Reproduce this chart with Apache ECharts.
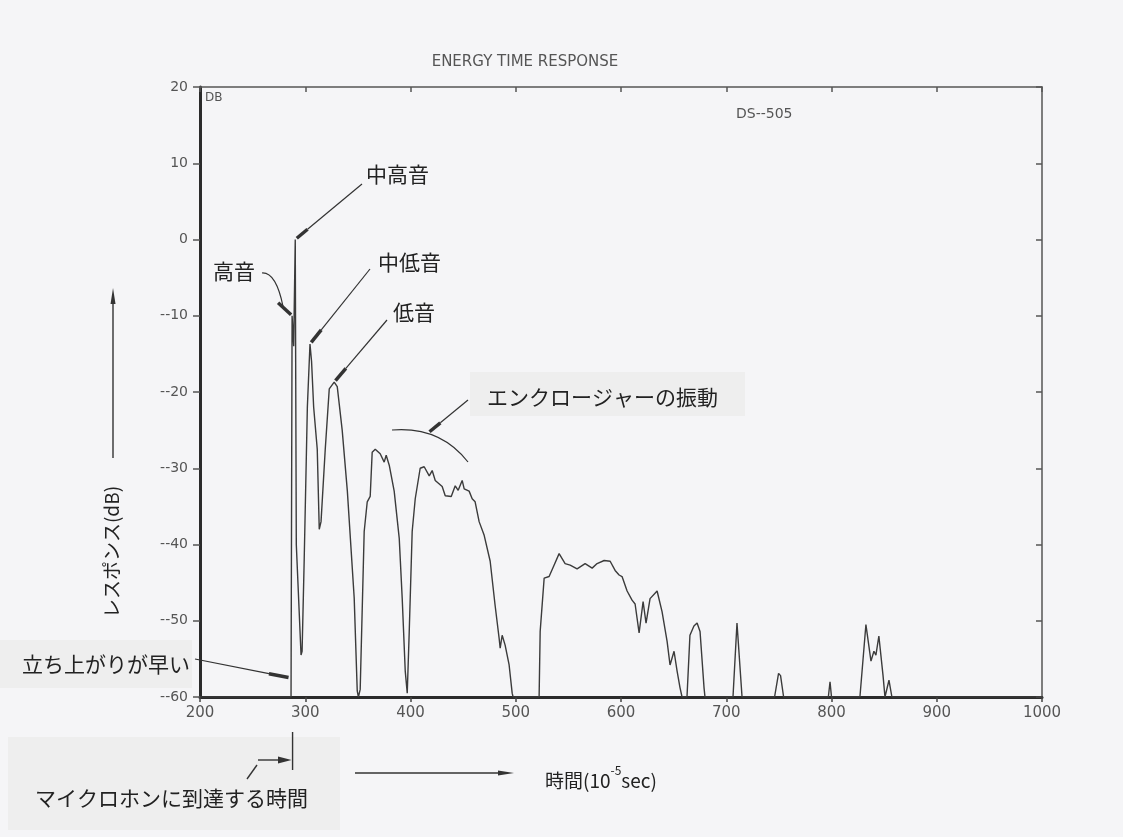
<!DOCTYPE html>
<html>
<head>
<meta charset="utf-8">
<script src="https://cdn.jsdelivr.net/npm/echarts@6/dist/echarts.min.js"></script>
<style>
html, body { margin: 0; padding: 0; background: #f5f5f7; }
#main { width: 1123px; height: 837px; }
</style>
</head>
<body>
<div id="main"></div>
<script>
// 時間軸 (10^-5 sec) と レスポンス (dB)
var times = [200, 286.5, 287.5, 289, 290.5, 291.5, 296, 297, 299, 302, 304.5, 306, 308, 311.4, 313.3, 315, 319, 322.8, 327.5, 330.4, 332.3, 335.1, 340, 346.5, 349.4, 350.5,
  352.2, 356, 358.9, 361.7, 363.6, 366.5, 371.2, 375, 376.9, 379.8, 384.5, 389.3, 392.1, 395, 396.9,
  398.8, 401.6, 404.5, 409.2, 413, 417.8, 420.6, 423.5, 430.1, 433, 438.7, 442.5, 445.3, 449.1, 451, 455.7, 458.6, 461.4, 465.2, 470, 475.7, 480.4, 484.2, 485.2, 487.1, 489.9, 493.7, 496.6, 497.5,
  522.2, 523.2, 527, 531.7, 536.5, 541.2, 546.9, 551.7, 558.3, 565.9, 572.6, 577.3, 584, 589.7, 594.4, 598.2, 601, 605.8, 610.5, 613.4, 617.2, 621, 623.8, 627.6, 634.3, 639, 643.8, 646.6, 650.4, 653.3, 656.1, 658,
  662.7, 665.5, 669.3, 672.3, 675.1, 678.9, 679.8,
  706.4, 710.2, 715,
  745.9, 749.7, 751.6, 754.5,
  797, 798.6, 800,
  827, 832.7, 837.5, 840.3, 842.2, 845, 848.9, 850.8, 854.6, 857.4, 1000];
var levels = [-60, -60, -10, -14, 0, -40, -54.5, -54, -42, -22, -13.7, -16, -22, -27.5, -38, -37, -27.5, -19.6, -18.7, -19.3, -21.6, -25, -33, -47, -59.2, -60,
  -59, -38.3, -34.4, -33.7, -27.9, -27.5, -28.1, -29.2, -28.3, -29.6, -33, -39.2, -47, -56.6, -59.5,
  -51.4, -38.3, -34, -30, -29.8, -31, -30.3, -31.6, -32.4, -33.6, -33.7, -32.3, -32.9, -31.6, -32.7, -33, -34, -34.4, -37, -38.8, -42.2, -48, -52.3, -53.6, -51.9, -53.2, -55.8, -59.5, -60,
  -60, -51.4, -44.4, -44.2, -42.7, -41.2, -42.5, -42.7, -43.2, -42.5, -43.1, -42.5, -42.1, -42.2, -43.4, -44, -44.2, -46.1, -47.3, -47.8, -51.6, -47.5, -50.3, -47.1, -46.1, -48.8, -52.7, -55.8, -54, -56.6, -58.8, -60,
  -60, -51.9, -50.7, -50.3, -51.4, -58.8, -60,
  -60, -50.3, -60,
  -60, -56.9, -57.2, -60,
  -60, -58, -60,
  -60, -50.5, -55.3, -54, -54.5, -52, -57.1, -60, -57.8, -60, -60];

var xMin = 200, xMax = 1000, xStep = 100;
var yMin = -60, yMax = 20, yStep = 10;

var myChart = echarts.init(document.getElementById('main'));

var plotFont = 'DejaVu Sans';
var jpFont = 'Noto Sans CJK JP';

var option = {
  backgroundColor: '#f5f5f7',
  animation: false,
  grid: { left: 200, right: 81, top: 87, bottom: 140 },
  xAxis: [{
    type: 'value', min: xMin, max: xMax, interval: xStep, position: 'bottom',
    axisLine: { show: true, onZero: false, lineStyle: { color: '#2b2b2b', width: 3 } },
    axisTick: { show: true, length: 5, lineStyle: { color: '#444', width: 1.5 } },
    axisLabel: {
      color: '#555', fontFamily: plotFont, fontSize: 15, margin: 9,
      formatter: function (v) { return String(v); }
    },
    splitLine: { show: false }
  }, {
    type: 'value', min: xMin, max: xMax, interval: xStep, position: 'top',
    axisLine: { show: true, onZero: false, lineStyle: { color: '#555', width: 1.5 } },
    axisTick: { show: true, inside: true, length: 5, lineStyle: { color: '#555', width: 1.5 } },
    axisLabel: { show: false },
    splitLine: { show: false }
  }],
  yAxis: [{
    type: 'value', min: yMin, max: yMax, interval: yStep, position: 'left',
    axisLine: { show: true, onZero: false, lineStyle: { color: '#2b2b2b', width: 3 } },
    axisTick: { show: true, length: 7, lineStyle: { color: '#555', width: 1.5 } },
    axisLabel: {
      color: '#555', fontFamily: plotFont, fontSize: 14, margin: 12,
      formatter: function (v) { return v < 0 ? '--' + (-v) : String(v); }
    },
    splitLine: { show: false }
  }, {
    type: 'value', min: yMin, max: yMax, interval: yStep, position: 'right',
    axisLine: { show: true, onZero: false, lineStyle: { color: '#555', width: 1.5 } },
    axisTick: { show: true, inside: true, length: 6, lineStyle: { color: '#555', width: 1.5 } },
    axisLabel: { show: false },
    splitLine: { show: false }
  }],
  series: [{
    name: 'ETR',
    type: 'line',
    showSymbol: false,
    lineStyle: { color: '#3b3b3b', width: 1.4 },
    data: times.map(function (t, i) { return [t, levels[i]]; })
  }]
};
myChart.setOption(option);

function px(x, y) {
  return myChart.convertToPixel({ xAxisIndex: 0, yAxisIndex: 0 }, [x, y]);
}

function box(x, y, w, h) {
  return { type: 'rect', shape: { x: x, y: y, width: w, height: h }, style: { fill: '#eeeeee' }, z: 1 };
}
function txt(x, y, s, size, extra) {
  var st = { text: s, x: x, y: y, fill: '#222', font: size + 'px "' + jpFont + '"', textVerticalAlign: 'middle' };
  for (var k in extra) st[k] = extra[k];
  return { type: 'text', style: st, z: 10 };
}
function seg(x1, y1, x2, y2, w) {
  return { type: 'line', shape: { x1: x1, y1: y1, x2: x2, y2: y2 }, style: { stroke: '#333', lineWidth: w || 1.2 }, z: 10 };
}
// 細い線＋先端の太い部分 (手書き風の矢印)
function pointer(fromX, fromY, tip, back) {
  var dx = fromX - tip[0], dy = fromY - tip[1];
  var len = Math.sqrt(dx * dx + dy * dy);
  var bx = tip[0] + dx / len * back, by = tip[1] + dy / len * back;
  return [seg(fromX, fromY, bx, by, 1.2), seg(bx, by, tip[0] + dx / len * 2, tip[1] + dy / len * 2, 3.5)];
}

var tipHigh = px(287.5, -10);
var tipMidHigh = px(290.5, 0);
var tipMidLow = px(304.5, -13.7);
var tipLow = px(327.5, -18.7);
var tipRise = px(286, -57.5);
var arrive = px(287, -60);

var g = [
  box(0, 640, 192, 48),
  box(8, 737, 332, 93),
  box(470, 372, 275, 44),
  // タイトル類
  { type: 'text', style: { text: 'ENERGY TIME RESPONSE', x: 525, y: 62, fill: '#555', font: '15px "' + plotFont + '"', textAlign: 'center', textVerticalAlign: 'middle' }, z: 10 },
  { type: 'text', style: { text: 'DB', x: 205, y: 98, fill: '#555', font: '12px "' + plotFont + '"', textVerticalAlign: 'middle' }, z: 10 },
  { type: 'text', style: { text: 'DS--505', x: 736, y: 114, fill: '#555', font: '14px "' + plotFont + '"', textVerticalAlign: 'middle' }, z: 10 },
  // 注記
  txt(366, 174, '中高音', 21),
  txt(378, 262, '中低音', 21),
  txt(393, 312, '低音', 21),
  txt(213, 271, '高音', 21),
  txt(487, 397, 'エンクロージャーの振動', 21),
  txt(22, 664, '立ち上がりが早い', 21),
  txt(35, 798, 'マイクロホンに到達する時間', 21),
  // 高音 の曲がった指示線
  { type: 'bezierCurve', shape: { x1: 262, y1: 273, cpx1: 276, cpy1: 272, x2: tipHigh[0] - 9, y2: tipHigh[1] - 9 }, style: { stroke: '#333', lineWidth: 1.2, fill: null }, z: 10 },
  seg(tipHigh[0] - 14, tipHigh[1] - 13, tipHigh[0] - 1, tipHigh[1] - 1, 3.5),
  // エンクロージャーの弧
  { type: 'bezierCurve', shape: { x1: 392, y1: 430, cpx1: 440, cpy1: 426, x2: 468, y2: 462 }, style: { stroke: '#333', lineWidth: 1.2, fill: null }, z: 10 },
  // 軸名
  { type: 'text', rotation: Math.PI / 2, x: 112, y: 552, style: { text: 'レスポンス(dB)', x: 0, y: 0, fill: '#222', font: '19px "' + jpFont + '"', textAlign: 'center', textVerticalAlign: 'middle' }, z: 10 },
  seg(113, 458, 113, 300, 1.4),
  { type: 'polygon', shape: { points: [[110.5, 304], [113, 288], [115.5, 304]] }, style: { fill: '#333' }, z: 10 },
  seg(355, 773, 500, 773, 1.4),
  { type: 'polygon', shape: { points: [[498, 770.5], [514, 773], [498, 775.5]] }, style: { fill: '#333' }, z: 10 },
  {
    type: 'text', style: {
      text: '{a|時間(10}{s|-5}{a|sec)}', x: 545, y: 777, textVerticalAlign: 'middle',
      rich: {
        a: { fontFamily: jpFont, fontSize: 19, fill: '#222', lineHeight: 26, verticalAlign: 'bottom' },
        s: { fontFamily: jpFont, fontSize: 12, fill: '#222', lineHeight: 26, verticalAlign: 'top' }
      }
    }, z: 10
  },
  // マイクロホン到達時間
  seg(arrive[0] + 1, 732, arrive[0] + 1, 770, 1.4),
  seg(258, 760, 282, 760, 1.4),
  { type: 'polygon', shape: { points: [[278, 756.5], [arrive[0], 760], [278, 763.5]] }, style: { fill: '#333' }, z: 10 },
  seg(247, 779, 257, 765, 1.4)
];
g = g.concat(pointer(362, 184, tipMidHigh, 16));
g = g.concat(pointer(370, 269, tipMidLow, 18));
g = g.concat(pointer(387, 320, tipLow, 18));
g = g.concat(pointer(468, 400, [428, 433], 16));
g = g.concat(pointer(195, 659, tipRise, 22));

myChart.setOption({ graphic: g });
</script>
</body>
</html>
